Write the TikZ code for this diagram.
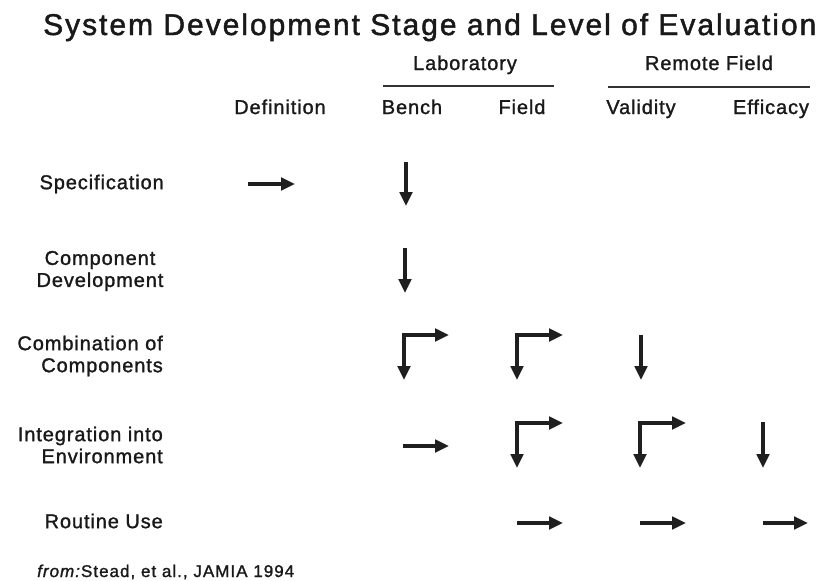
\documentclass[tikz,border=0pt]{standalone}
\usepackage{fontspec}
\setmainfont{Liberation Sans}
\newfontfamily\headfont[LetterSpace=6.6, FakeBold=1.5]{Liberation Sans}
\newfontfamily\labelfont[LetterSpace=4.5, FakeBold=1.3]{Liberation Sans}
\newfontfamily\notefont[LetterSpace=6, FakeBold=1.3]{Liberation Sans}
\usetikzlibrary{arrows.meta}

\tikzset{
  ink/.style={draw=black!88},
  tip/.tip={Triangle[length=14pt,width=12.5pt]},
  arr/.style={ink, line width=3.2pt, -tip},
  arrtwo/.style={ink, line width=3.2pt, tip-tip},
  rule/.style={draw=black!80, line width=1.2pt},
  title/.style={font=\headfont\fontsize{30}{34}\selectfont, inner sep=0pt, text=black!90},
  group/.style={font=\labelfont\fontsize{20}{22}\selectfont, inner sep=0pt, text=black!90},
  colhead/.style={font=\labelfont\fontsize{20}{22}\selectfont, inner sep=0pt, text=black!90},
  rowhead/.style={font=\labelfont\fontsize{20}{22}\selectfont, inner sep=0pt, text=black!90},
  note/.style={font=\notefont\fontsize{17}{19}\selectfont, inner sep=0pt, text=black!90},
}

\begin{document}
\begin{tikzpicture}[x=1pt, y=-1pt]
\useasboundingbox[fill=white] (0,0) rectangle (820,581);

% title
\node[title, anchor=base west] (title) at (43,35) {System Development Stage and Level of Evaluation};

% group headings with their rules
\node[group, anchor=base] (lab) at (465,70) {Laboratory};
\node[group, anchor=base] (rem) at (709,70) {Remote Field};
\coordinate (labL) at (383,86);
\coordinate (labR) at (554,86);
\coordinate (remL) at (608,87);
\coordinate (remR) at (810,87);
\draw[rule] (labL) -- (labR);
\draw[rule] (remL) -- (remR);

% column headings
\node[colhead, anchor=base] (def) at (280,114) {Definition};
\node[colhead, anchor=base] (bench) at (412,114) {Bench};
\node[colhead, anchor=base] (field) at (522,114) {Field};
\node[colhead, anchor=base] (valid) at (641,114) {Validity};
\node[colhead, anchor=base] (effic) at (771,114) {Efficacy};

% row headings
\node[rowhead, anchor=east] (spec) at (164,184) {Specification};
\node[rowhead, align=center] (comp) at (100,271) {Component\\Development};
\node[rowhead, align=right, anchor=east] (comb) at (163,356) {Combination of\\Components};
\node[rowhead, align=right, anchor=east] (integ) at (163,445) {Integration into\\Environment};
\node[rowhead, anchor=east] (use) at (163,521) {Routine Use};

% source
\node[note, anchor=base west] (src) at (37,577) {\textit{from:}Stead, et al., JAMIA 1994};

% Specification
\coordinate (a1s) at (248,184); \coordinate (a1e) at (295,184);
\draw[arr] (a1s) -- (a1e);
\coordinate (a2s) at (406,162); \coordinate (a2e) at (406,206);
\draw[arr] (a2s) -- (a2e);

% Component Development
\coordinate (b1s) at (405,248); \coordinate (b1e) at (405,293);
\draw[arr] (b1s) -- (b1e);

% Combination of Components
\coordinate (c1d) at (404,380); \coordinate (c1r) at (449,335);
\draw[arrtwo] (c1d) |- (c1r);
\coordinate (c2d) at (517,380); \coordinate (c2r) at (563,335);
\draw[arrtwo] (c2d) |- (c2r);
\coordinate (c3s) at (641,335); \coordinate (c3e) at (641,380);
\draw[arr] (c3s) -- (c3e);

% Integration into Environment
\coordinate (d1s) at (403,446); \coordinate (d1e) at (449,446);
\draw[arr] (d1s) -- (d1e);
\coordinate (d2d) at (517,468); \coordinate (d2r) at (563,423);
\draw[arrtwo] (d2d) |- (d2r);
\coordinate (d3d) at (640,468); \coordinate (d3r) at (686,423);
\draw[arrtwo] (d3d) |- (d3r);
\coordinate (d4s) at (763,422); \coordinate (d4e) at (763,468);
\draw[arr] (d4s) -- (d4e);

% Routine Use
\coordinate (e1s) at (517,523); \coordinate (e1e) at (563,523);
\draw[arr] (e1s) -- (e1e);
\coordinate (e2s) at (640,523); \coordinate (e2e) at (686,523);
\draw[arr] (e2s) -- (e2e);
\coordinate (e3s) at (763,523); \coordinate (e3e) at (808,523);
\draw[arr] (e3s) -- (e3e);
\end{tikzpicture}
\end{document}
